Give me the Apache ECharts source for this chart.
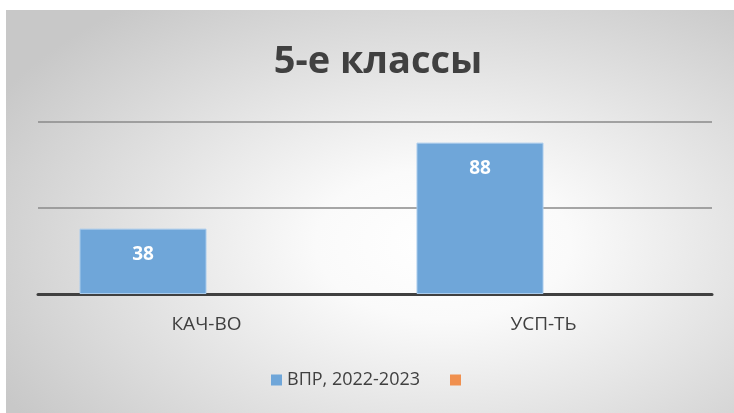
<!DOCTYPE html>
<html><head><meta charset="utf-8">
<script src="https://cdn.jsdelivr.net/npm/echarts@6/dist/echarts.min.js"></script>
<style>
html,body{margin:0;padding:0;width:734px;height:413px;background:#fff;overflow:hidden}
#bg{position:absolute;left:6px;top:10px;width:728px;height:403px;
background:radial-gradient(ellipse 70% 75% at 60% 58%, #ffffff 0%, #fafafa 25%, #c8c8c8 100%);}
#chart{position:absolute;left:0;top:0;width:734px;height:413px}
</style></head>
<body><div id="bg"></div><div id="chart"></div>
<script>
const categories = ['КАЧ-ВО', 'УСП-ТЬ'];
const seriesName1 = 'ВПР, 2022-2023';
const values1 = [38, 88];
const seriesName2 = ' ';
const values2 = [];
const titleText = '5-е классы';
const yMin = 0, yMax = 100, yStep = 50;

const font = '"Open Sans", sans-serif';
const chart = echarts.init(document.getElementById('chart'));
chart.setOption({
  backgroundColor: 'transparent',
  animation: false,
  title: {
    text: titleText, left: 373, textAlign: 'center', top: 38,
    textStyle: {fontFamily: font, fontWeight: 'bold', fontSize: 38, color: '#404040'}
  },
  legend: {
    data: [seriesName1, seriesName2], top: 366, left: 266,
    itemWidth: 11, itemHeight: 11, itemGap: 30, icon: 'rect',
    itemStyle: {borderWidth: 0},
    textStyle: {fontFamily: font, fontSize: 18, color: '#404040'}
  },
  grid: {left: 38, right: 22, top: 122, bottom: 119},
  xAxis: {
    type: 'category', data: categories,
    axisLine: {lineStyle: {color: '#404040', width: 3}},
    axisTick: {show: false},
    axisLabel: {fontFamily: font, fontSize: 19, color: '#404040', margin: 21}
  },
  yAxis: {
    type: 'value', min: yMin, max: yMax, interval: yStep,
    axisLabel: {show: false}, axisLine: {show: false}, axisTick: {show: false},
    splitLine: {lineStyle: {color: '#8a8a8a', width: 1.5}}
  },
  series: [
    {name: seriesName1, type: 'bar', data: values1, barWidth: 127, barGap: '0%',
     itemStyle: {color: '#6fa6d9', borderColor: '#a9cbec', borderWidth: 1},
     label: {show: true, position: 'insideTop', distance: 16, color: '#fff',
       fontFamily: font, fontWeight: 'bold', fontSize: 19}},
    {name: seriesName2, type: 'bar', data: values2, barWidth: 127,
     itemStyle: {color: '#f0904f'}}
  ]
});
</script></body></html>
